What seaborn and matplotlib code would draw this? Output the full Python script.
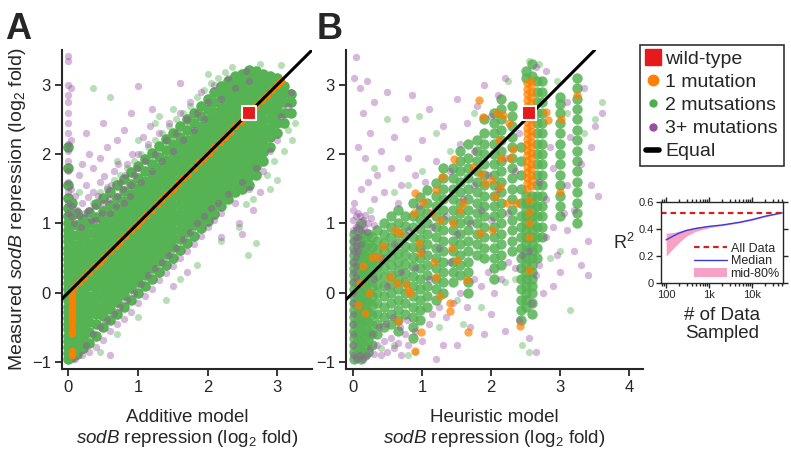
import numpy as np
import pandas as pd
import matplotlib
matplotlib.use("Agg")
import matplotlib.pyplot as plt
from matplotlib.lines import Line2D
import seaborn as sns

sns.set_style("ticks")
plt.rcParams['font.family'] = ['Liberation Sans', 'DejaVu Sans']
plt.rcParams['mathtext.fontset'] = 'custom'
plt.rcParams['mathtext.rm'] = 'Liberation Sans'
plt.rcParams['mathtext.it'] = 'Liberation Sans:italic'

# ---------------- colours ----------------
C_WT = "#E41A1C"
C_ONE = "#FF7F00"
C_TWO = "#4DAF4A"
C_TWO_CORE = "#56B353"
C_THREE = "#984EA3"

# ---------------- Panel A (additive model) ----------------
# green: 2 mutations, dense core read as columns (x, list of measured y)
a_green_cols = [
    (0.00, [-0.95, -0.87, -0.79, -0.7, -0.62, -0.53, -0.45, -0.36, -0.28, -0.2, -0.11, -0.03, 0.06, 0.14, 0.23,
            0.31, 0.4, 0.48, 0.57, 0.65, 0.74, 0.82, 0.91, 1.0, 1.1, 1.22, 1.36, 1.55, 1.8, 2.1]),
    (0.06, [-0.93, -0.8, -0.67, -0.55, -0.41, -0.29, -0.16, -0.04, 0.09, 0.21, 0.34, 0.46, 0.59, 0.71, 0.84, 0.97, 1.12, 1.3]),
    (0.13, [-0.88, -0.74, -0.6, -0.47, -0.33, -0.21, -0.08, 0.05, 0.17, 0.3, 0.43, 0.56, 0.69, 0.83, 0.98, 1.15]),
    (0.21, [-0.8, -0.66, -0.52, -0.39, -0.26, -0.13, 0.0, 0.12, 0.25, 0.37, 0.5, 0.63, 0.77, 0.92, 1.06]),
    (0.30, [-0.72, -0.56, -0.42, -0.29, -0.16, -0.04, 0.09, 0.21, 0.34, 0.46, 0.59, 0.72, 0.86, 1.0, 1.17]),
    (0.40, [-0.62, -0.45, -0.31, -0.19, -0.07, 0.06, 0.18, 0.3, 0.43, 0.55, 0.67, 0.8, 0.94, 1.09, 1.28]),
    (0.50, [-0.5, -0.34, -0.21, -0.08, 0.04, 0.16, 0.28, 0.4, 0.52, 0.65, 0.77, 0.9, 1.03, 1.18, 1.36]),
    (0.60, [-0.4, -0.23, -0.1, 0.02, 0.14, 0.26, 0.38, 0.5, 0.62, 0.74, 0.87, 0.99, 1.12, 1.27, 1.45]),
    (0.70, [-0.3, -0.13, 0.0, 0.12, 0.24, 0.36, 0.48, 0.6, 0.72, 0.84, 0.96, 1.09, 1.22, 1.37, 1.55]),
    (0.80, [-0.2, -0.03, 0.1, 0.22, 0.34, 0.46, 0.58, 0.7, 0.82, 0.94, 1.06, 1.19, 1.32, 1.47, 1.64]),
    (0.90, [-0.1, 0.07, 0.2, 0.32, 0.44, 0.56, 0.68, 0.8, 0.92, 1.04, 1.16, 1.29, 1.42, 1.57, 1.74]),
    (1.00, [0.0, 0.16, 0.29, 0.41, 0.53, 0.65, 0.77, 0.89, 1.01, 1.13, 1.25, 1.38, 1.51, 1.66, 1.83]),
    (1.10, [0.1, 0.26, 0.39, 0.51, 0.63, 0.75, 0.87, 0.99, 1.11, 1.23, 1.35, 1.48, 1.61, 1.76, 1.93]),
    (1.20, [0.2, 0.36, 0.49, 0.61, 0.73, 0.85, 0.97, 1.09, 1.21, 1.33, 1.45, 1.58, 1.71, 1.86, 2.02]),
    (1.30, [0.3, 0.46, 0.59, 0.71, 0.83, 0.95, 1.07, 1.19, 1.31, 1.43, 1.55, 1.68, 1.81, 1.96, 2.12]),
    (1.40, [0.4, 0.56, 0.69, 0.81, 0.93, 1.05, 1.17, 1.29, 1.41, 1.53, 1.65, 1.78, 1.91, 2.06, 2.22]),
    (1.50, [0.5, 0.66, 0.79, 0.91, 1.03, 1.15, 1.27, 1.39, 1.51, 1.63, 1.75, 1.88, 2.01, 2.15, 2.3]),
    (1.60, [0.62, 0.77, 0.9, 1.02, 1.14, 1.26, 1.38, 1.5, 1.62, 1.74, 1.86, 1.98, 2.11, 2.25, 2.4]),
    (1.70, [0.72, 0.87, 1.0, 1.12, 1.24, 1.36, 1.48, 1.6, 1.72, 1.84, 1.96, 2.08, 2.21, 2.35, 2.5]),
    (1.80, [0.82, 0.97, 1.1, 1.22, 1.34, 1.46, 1.58, 1.7, 1.82, 1.94, 2.06, 2.18, 2.31, 2.45, 2.6]),
    (1.90, [0.93, 1.07, 1.2, 1.32, 1.44, 1.56, 1.68, 1.8, 1.92, 2.04, 2.16, 2.28, 2.41, 2.55, 2.7]),
    (2.00, [1.03, 1.17, 1.3, 1.42, 1.54, 1.66, 1.78, 1.9, 2.02, 2.14, 2.26, 2.38, 2.51, 2.65, 2.8]),
    (2.10, [1.13, 1.27, 1.4, 1.52, 1.64, 1.76, 1.88, 2.0, 2.12, 2.24, 2.36, 2.48, 2.61, 2.75, 2.9]),
    (2.20, [1.25, 1.38, 1.5, 1.62, 1.74, 1.86, 1.98, 2.1, 2.22, 2.34, 2.46, 2.58, 2.71, 2.85, 2.98]),
    (2.30, [1.35, 1.48, 1.6, 1.72, 1.84, 1.96, 2.08, 2.2, 2.32, 2.44, 2.56, 2.68, 2.8, 2.93, 3.05]),
    (2.40, [1.45, 1.58, 1.7, 1.82, 1.94, 2.06, 2.18, 2.3, 2.42, 2.54, 2.66, 2.78, 2.9, 3.02, 3.12]),
    (2.50, [1.5, 1.62, 1.74, 1.86, 1.98, 2.1, 2.22, 2.34, 2.46, 2.58, 2.7, 2.82, 2.94, 3.05, 3.16]),
    (2.60, [1.55, 1.68, 1.8, 1.92, 2.04, 2.16, 2.28, 2.4, 2.52, 2.64, 2.76, 2.88, 3.0, 3.1, 3.22]),
    (2.70, [1.7, 1.83, 1.95, 2.07, 2.19, 2.31, 2.43, 2.55, 2.67, 2.79, 2.9, 3.0, 3.1, 3.2]),
    (2.80, [1.9, 2.03, 2.15, 2.27, 2.39, 2.51, 2.63, 2.75, 2.86, 2.97, 3.07, 3.15]),
    (2.90, [2.1, 2.24, 2.37, 2.5, 2.62, 2.73, 2.84, 2.95, 3.05, 3.12]),
    (3.00, [2.3, 2.45, 2.58, 2.7, 2.82, 2.93, 3.03, 3.1]),
    (3.10, [2.45, 2.6, 2.75, 2.88, 2.98]),
    (3.20, [2.6, 2.75, 2.86]),
]
# green: sparser points around the band
a_green_extra = [(0.35, 1.3), (0.45, 1.45), (0.55, 1.52), (0.65, 1.62), (0.75, 1.7), (0.85, 1.8), (0.95, 1.9),
                 (1.05, 2.0), (1.15, 2.1), (1.25, 2.2), (1.35, 2.3), (1.45, 2.4), (1.55, 2.5), (1.65, 2.6),
                 (1.75, 2.7), (1.85, 2.82), (1.95, 2.92), (2.05, 3.02), (2.15, 3.1), (2.25, 3.18),
                 (1.0, 2.2), (1.5, 2.65), (2.0, 3.15), (0.7, 1.9), (1.25, 2.45),
                 (2.7, 0.72), (2.58, 0.55), (3.0, 1.62), (3.22, 2.2), (2.55, 1.28), (2.9, 1.5), (2.2, 0.75),
                 (3.1, 2.05), (0.6, 2.82), (0.35, 2.95), (1.3, 2.55), (0.15, 1.45), (2.95, 1.9), (3.05, 3.28),
                 (2.75, 3.3), (2.35, 3.25), (1.85, 0.4), (1.4, -0.1), (1.0, -0.35), (0.7, -0.6), (0.45, -0.85),
                 (1.6, 0.2), (3.25, 2.45), (2.45, 0.95), (2.65, 1.35), (2.85, 1.7), (3.15, 2.35)]
a_purple = [
    (0.06, 1.25), (0.1, 1.4), (0.15, 1.1), (0.2, 1.3), (0.25, 1.55), (0.3, 1.2), (0.35, 1.45), (0.4, 1.05),
    (0.45, 1.6), (0.5, 1.3), (0.55, 1.5), (0.6, 1.15), (0.65, 1.75), (0.7, 1.4), (0.75, 1.6), (0.8, 1.3),
    (0.85, 1.85), (0.9, 1.55), (0.95, 1.7), (1.0, 2.0), (1.05, 1.6), (1.1, 1.9), (1.15, 2.15), (1.2, 1.75),
    (1.25, 2.0), (1.3, 2.3), (1.35, 1.9), (1.4, 2.2), (1.45, 2.45), (1.5, 2.05), (1.55, 2.3), (1.6, 2.6),
    (1.65, 2.2), (1.7, 2.5), (1.75, 2.75), (1.8, 2.35), (1.85, 2.6), (1.9, 2.9), (1.95, 2.5), (2.0, 2.75),
    (2.1, 3.0), (2.2, 2.8), (2.3, 3.1), (2.4, 2.95), (2.55, 3.2), (0.5, 2.45), (0.9, 2.6), (1.0, 2.98),
    (1.6, 3.02), (0.3, 2.0), (0.7, 2.2), (1.2, 2.65), (0.45, 1.95), (0.2, 1.85),
    (0.08, 1.0), (0.12, 1.2), (0.18, 0.95), (0.24, 1.15), (0.28, 1.38), (0.33, 1.05), (0.38, 1.25),
    (0.42, 1.4), (0.48, 1.15), (0.52, 1.68), (0.58, 1.35), (0.62, 1.55), (0.68, 1.25), (0.72, 1.85),
    (0.78, 1.5), (0.82, 1.7), (0.88, 1.4), (0.92, 2.0), (0.98, 1.8), (1.08, 2.25), (1.18, 2.4),
    (0.15, 1.7), (0.35, 1.8), (0.55, 2.1), (0.25, 2.3), (0.8, 2.35),
    (0.1, -0.95), (0.2, -0.9), (0.25, -0.75), (0.3, -0.85), (0.35, -0.6), (0.4, -0.78), (0.45, -0.5),
    (0.5, -0.68), (0.55, -0.4), (0.6, -0.55), (0.65, -0.3), (0.7, -0.45), (0.75, -0.2), (0.8, -0.38),
    (0.85, -0.1), (0.9, -0.28), (0.95, 0.0), (1.0, -0.15), (1.05, 0.12), (1.1, -0.05), (1.15, 0.25),
    (1.2, 0.05), (1.25, 0.35), (1.3, 0.18), (1.35, 0.45), (1.4, 0.28), (1.45, 0.55), (1.5, 0.38),
    (1.55, 0.65), (1.6, 0.5), (1.65, 0.78), (1.7, 0.6), (1.75, 0.88), (1.8, 0.7), (1.85, 1.0), (1.9, 0.82),
    (1.95, 1.1), (2.0, 0.95), (2.05, 1.22), (2.1, 1.05), (2.15, 1.3), (2.2, 1.15), (2.3, 1.42), (2.4, 1.3),
    (2.5, 1.6), (2.6, 1.5), (2.7, 1.8), (2.8, 1.75), (2.9, 2.05), (3.0, 2.2), (2.65, 1.2), (2.2, 0.8),
    (1.5, 0.1), (0.6, -0.9), (1.7, 0.3), (2.45, 1.0),
    (0.0, 1.3), (0.0, 1.45), (0.0, 1.6), (0.0, 1.75), (0.0, 1.9), (0.0, 2.05), (0.0, 2.15), (0.0, 2.3),
    (0.0, 2.45), (0.0, 2.6), (0.0, 2.75), (0.0, 2.85), (0.0, 3.0), (0.0, 3.35), (0.0, 3.42), (0.04, 1.5),
    (0.04, 2.2), (0.04, 2.95), (0.04, 1.1), (0.0, 1.15),
    (3.05, 2.55), (3.2, 2.9), (2.6, 3.05), (3.15, 2.7), (2.75, 1.45), (2.5, 0.85),
]
a_orange = [
    (0.08, 0.08), (0.15, 0.15), (0.22, 0.22), (0.3, 0.3), (0.38, 0.38), (0.45, 0.45), (0.52, 0.52),
    (0.6, 0.6), (0.68, 0.68), (0.75, 0.75), (0.82, 0.82), (0.9, 0.9), (0.98, 0.98), (1.05, 1.05),
    (1.12, 1.12), (1.2, 1.2), (1.28, 1.28), (1.35, 1.35), (1.42, 1.42), (1.5, 1.5), (1.58, 1.58),
    (1.65, 1.65), (1.72, 1.72), (1.8, 1.8), (1.88, 1.88), (1.95, 1.95), (2.02, 2.02), (2.1, 2.1),
    (2.18, 2.18), (2.25, 2.25), (2.32, 2.32), (2.4, 2.4), (2.48, 2.48), (2.55, 2.55), (2.7, 2.7),
    (2.78, 2.78), (2.85, 2.85), (2.92, 2.92), (3.0, 3.0), (3.05, 3.05),
    (0.05, -0.02), (0.05, -0.08), (0.05, -0.14), (0.05, -0.2), (0.05, -0.26), (0.05, -0.32),
    (0.05, -0.38), (0.05, -0.44), (0.05, -0.52), (0.05, -0.58), (0.05, -0.84), (0.05, -0.9),
]
a_wildtype = [(2.6, 2.6)]

# ---------------- Panel B (heuristic model) ----------------
b_green_cols = [
    (0.02, [-0.95, -0.85, -0.75, -0.65, -0.55, -0.45, -0.35, -0.25, -0.15, -0.05, 0.05, 0.15, 0.25, 0.35, 0.45, 0.55, 0.65, 0.75, 0.85]),
    (0.07, [-0.92, -0.8, -0.68, -0.56, -0.44, -0.32, -0.2, -0.08, 0.04, 0.16, 0.28, 0.4, 0.52, 0.64, 0.76, 0.9]),
    (0.12, [-0.95, -0.83, -0.71, -0.59, -0.47, -0.35, -0.23, -0.11, 0.01, 0.13, 0.25, 0.37, 0.49, 0.61, 0.73, 0.85, 1.0]),
    (0.17, [-0.9, -0.77, -0.64, -0.51, -0.38, -0.25, -0.12, 0.01, 0.14, 0.27, 0.4, 0.53, 0.66, 0.8]),
    (0.22, [-0.85, -0.7, -0.56, -0.42, -0.28, -0.14, 0.0, 0.14, 0.28, 0.42, 0.56, 0.7, 0.85]),
    (0.28, [-0.75, -0.6, -0.46, -0.32, -0.18, -0.04, 0.1, 0.24, 0.38, 0.52, 0.66, 0.8]),
    (0.35, [-0.6, -0.45, -0.3, -0.15, 0.0, 0.12, 0.25, 0.38, 0.5, 0.62, 0.75, 0.9]),
    (0.45, [-0.5, -0.35, -0.2, -0.05, 0.1, 0.22, 0.35, 0.48, 0.6, 0.72, 0.85, 1.0]),
    (0.55, [-0.45, -0.3, -0.15, 0.0, 0.13, 0.26, 0.4, 0.53, 0.66, 0.8, 0.95, 1.1]),
    (0.65, [-0.55, -0.4, -0.25, -0.1, 0.05, 0.18, 0.32, 0.45, 0.58, 0.72, 0.86, 1.0, 1.2]),
    (0.75, [-0.3, -0.15, 0.0, 0.15, 0.28, 0.42, 0.55, 0.68, 0.82, 0.96, 1.1]),
    (0.87, [-0.65, -0.5, -0.35, -0.2, -0.05, 0.1, 0.24, 0.38, 0.52, 0.66, 0.8, 0.95, 1.1, 1.3]),
    (0.97, [-0.4, -0.25, -0.1, 0.05, 0.2, 0.35, 0.5, 0.64, 0.78, 0.92, 1.06, 1.2, 1.38]),
    (1.07, [-0.2, -0.05, 0.1, 0.25, 0.4, 0.55, 0.7, 0.85, 1.0, 1.15, 1.3, 1.48]),
    (1.20, [-0.1, 0.05, 0.2, 0.35, 0.5, 0.65, 0.8, 0.95, 1.1, 1.25, 1.4, 1.58]),
    (1.30, [0.0, 0.15, 0.3, 0.45, 0.6, 0.75, 0.9, 1.05, 1.2, 1.35, 1.5, 1.65, 1.8]),
    (1.45, [0.15, 0.3, 0.45, 0.6, 0.75, 0.9, 1.05, 1.2, 1.35, 1.5, 1.65, 1.8]),
    (1.55, [0.25, 0.4, 0.55, 0.7, 0.85, 1.0, 1.15, 1.3, 1.45, 1.6, 1.75, 1.9, 2.05]),
    (1.67, [0.0, 0.15, 0.3, 0.45, 0.6, 0.75, 0.9, 1.05, 1.2, 1.35, 1.5, 1.65, 1.8, 1.95, 2.15]),
    (1.80, [0.55, 0.7, 0.85, 1.0, 1.15, 1.3, 1.45, 1.6, 1.75, 1.9, 2.05, 2.2]),
    (1.90, [0.5, 0.65, 0.8, 0.95, 1.1, 1.25, 1.4, 1.55, 1.7, 1.85, 2.0, 2.15, 2.3, 2.5]),
    (2.05, [0.2, 0.35, 0.5, 0.65, 0.8, 0.95, 1.1, 1.25, 1.4, 1.55, 1.7, 1.85, 2.0, 2.15, 2.3, 2.45, 2.6]),
    (2.15, [0.4, 0.55, 0.7, 0.85, 1.0, 1.15, 1.3, 1.45, 1.6, 1.75, 1.9, 2.05, 2.2, 2.35, 2.5, 2.65, 2.8]),
    (2.30, [0.6, 0.75, 0.9, 1.05, 1.2, 1.35, 1.5, 1.65, 1.8, 1.95, 2.1, 2.25, 2.4, 2.55, 2.7]),
    (2.43, [-0.4, -0.25, -0.1, 0.05, 0.2, 0.35, 0.5, 0.65, 0.8, 0.95, 1.1, 1.3, 1.5, 1.7, 1.9, 2.1]),
    (2.50, [-0.2, -0.1, 0.0, 0.1, 0.2, 0.3, 0.4, 0.5, 0.6, 0.7, 0.8, 0.9, 1.0, 1.1, 1.2, 1.3, 1.4, 3.1, 3.2]),
    (2.60, [-0.3, -0.15, 0.0, 0.1, 0.2, 0.3, 0.4, 0.5, 0.6, 0.7, 0.8, 0.9, 1.0, 1.1, 1.2, 1.3, 1.4, 3.12, 3.3]),
    (2.66, [0.5, 0.65, 0.8, 0.95, 1.1, 1.25, 1.4, 1.55, 1.7, 1.85, 2.0, 2.15, 2.3, 2.45, 2.6, 2.75, 2.9, 3.05]),
    (2.74, [0.8, 0.95, 1.1, 1.25, 1.4, 1.55, 1.7, 1.85, 2.0, 2.15, 2.3, 2.45, 2.6, 2.75, 2.9, 3.05]),
    (3.00, [1.1, 1.25, 1.4, 1.55, 1.7, 1.85, 2.0, 2.15, 2.3, 2.45, 2.6, 2.72, 2.82]),
    (3.25, [1.0, 1.15, 1.3, 1.45, 1.6, 1.75, 1.9, 2.05, 2.2, 2.35, 2.5, 2.65, 2.8, 2.95, 3.1]),
]
b_green_extra = [(0.3, 1.8), (0.5, 2.5), (0.95, 2.55), (1.2, 2.3), (1.4, 2.05), (0.8, 1.55), (1.75, 2.6),
                 (2.25, 3.05), (2.55, 3.35), (2.7, 3.3), (3.1, 2.6), (3.35, 2.3), (3.5, 2.5), (3.6, 2.75),
                 (2.85, 0.5), (2.35, 0.2), (1.85, -0.2), (1.6, -0.45), (1.25, -0.5), (0.9, -0.85),
                 (1.5, -0.1), (2.2, 0.15), (3.0, 0.6), (2.95, 3.05), (0.25, 1.2), (0.6, 1.45), (1.0, 1.75),
                 (2.45, -0.75), (2.55, -0.85), (3.15, -0.25), (0.4, -0.8), (0.6, -0.75), (0.8, -0.9)]
b_purple = [
    (0.0, 1.2), (0.0, 1.05), (0.0, 0.9), (0.0, 0.75), (0.0, 0.6), (0.0, 0.45), (0.0, 0.3), (0.0, 0.15),
    (0.0, 0.0), (0.0, -0.15), (0.0, -0.3), (0.0, -0.45), (0.0, -0.6), (0.0, -0.75), (0.0, -0.9),
    (0.04, 1.1), (0.04, 0.95), (0.04, 0.8), (0.04, 0.68), (0.04, 0.52), (0.08, 1.15), (0.08, 0.98),
    (0.1, 1.1), (0.14, 1.05), (0.18, 1.12), (0.22, 1.0), (0.26, 1.08), (0.3, 0.98), (0.12, 0.9), (0.2, 0.88),
    (0.04, 0.38), (0.04, 0.22), (0.08, 0.6), (0.08, 0.8), (0.12, 0.7), (0.16, 0.95), (0.02, 1.3),
    (0.05, -0.95), (0.1, -0.9), (0.15, -0.95), (0.2, -0.9), (0.25, -0.8), (0.3, -0.88), (0.35, -0.75),
    (0.4, -0.9), (0.45, -0.7), (0.5, -0.85), (0.55, -0.65), (0.6, -0.8), (0.65, -0.72), (0.7, -0.9),
    (0.75, -0.6), (0.8, -0.75), (0.28, -0.6), (0.38, -0.5), (0.48, -0.45), (0.58, -0.35), (0.68, -0.5),
    (0.78, -0.4), (0.9, -0.55), (1.0, -0.7), (1.1, -0.45), (1.15, -0.3), (1.25, -0.2), (1.35, -0.35),
    (1.45, -0.15), (1.55, 0.0), (1.65, -0.2), (1.75, 0.2), (1.85, 0.1), (1.95, 0.3), (2.05, 0.0),
    (2.15, 0.2), (2.25, 0.45), (2.35, 0.35), (2.45, 0.55), (2.55, 0.6), (2.65, 0.25), (2.7, 0.4),
    (2.8, 0.8), (2.9, 0.95), (2.95, 0.55), (3.05, 1.15), (3.1, 0.9), (3.2, 0.6), (3.3, 0.4), (3.4, 0.75),
    (2.75, 0.0), (2.6, -0.15), (2.4, -0.4), (2.2, -0.55), (2.0, -0.3), (1.9, -0.6), (1.7, -0.5),
    (1.5, -0.75), (1.3, -0.75), (1.2, -0.95), (2.55, -0.65), (2.65, -0.85),
    (0.3, 0.2), (0.4, 0.5), (0.5, 0.1), (0.6, 0.7), (0.7, 0.3), (0.8, 0.9), (0.9, 0.35), (1.0, 0.6),
    (1.1, 0.2), (1.15, 0.95), (1.25, 0.65), (1.35, 1.1), (1.4, 0.45), (1.5, 0.85), (1.6, 1.35), (1.7, 1.0),
    (1.75, 1.55), (1.85, 1.2), (1.95, 1.7), (2.0, 1.05), (2.1, 1.5), (2.2, 1.95), (2.25, 1.15), (2.35, 1.75),
    (2.4, 2.3), (2.7, 1.6), (2.8, 1.35), (2.85, 2.1), (2.9, 1.8), (3.1, 1.55), (3.15, 2.25), (3.3, 1.85),
    (3.45, 2.1), (3.55, 1.4), (3.6, 2.6),
    (0.05, 3.4), (0.02, 3.1), (0.1, 2.95), (0.15, 2.6), (0.2, 3.05), (0.25, 2.3), (0.3, 2.75), (0.08, 2.1),
    (0.18, 1.95), (0.35, 1.7), (0.4, 2.05), (0.45, 1.45), (0.5, 2.9), (0.55, 1.8), (0.6, 2.25), (0.7, 1.55),
    (0.75, 2.5), (0.8, 1.95), (0.85, 2.85), (0.9, 1.7), (1.0, 2.2), (1.05, 1.6), (1.1, 2.65), (1.2, 1.9),
    (1.3, 2.4), (1.4, 1.75), (1.5, 2.8), (1.55, 2.15), (1.65, 2.45), (1.75, 2.05), (1.8, 2.7), (1.9, 3.0),
    (2.0, 2.55), (2.1, 2.85), (2.2, 3.1), (0.12, 1.5), (0.22, 1.6), (0.3, 1.35), (0.65, 1.3), (0.95, 1.25),
    (3.5, 2.4), (3.45, 1.55), (3.1, 2.75), (3.35, 2.95), (2.8, 3.2), (2.65, 3.25), (3.2, 1.2), (3.0, 0.3),
    (3.4, 0.25), (2.9, 0.1),
]
b_orange_cols = [
    (2.52, [1.5, 1.58, 1.66, 1.74, 1.82, 1.9, 1.98, 2.06, 2.14, 2.22, 2.3, 2.38, 2.46, 2.54, 2.62, 2.7, 2.78, 2.86, 2.94, 3.02]),
    (2.58, [1.54, 1.62, 1.7, 1.78, 1.86, 1.94, 2.02, 2.1, 2.18, 2.26, 2.34, 2.42, 2.5, 2.58, 2.66, 2.74, 2.82, 2.9, 2.98, 3.05]),
    (2.55, [1.34, 1.17, 1.0, 0.81, 0.33]),
]
b_orange_extra = [
    (1.82, 2.78), (1.88, 2.54), (2.08, 2.59), (2.17, 2.56), (2.26, 2.45), (2.11, 2.2), (2.15, 1.94),
    (2.28, 1.94), (2.32, 2.08), (1.74, 1.82), (1.86, 1.72), (1.91, 1.59), (2.01, 1.63), (2.13, 1.53),
    (2.06, 1.39), (2.23, 1.29), (2.36, 1.29), (1.84, 0.86), (2.01, 0.91), (1.46, 1.93), (1.29, 1.67),
    (1.21, 1.48), (1.02, 1.31), (0.9, 1.44), (0.88, 1.15), (1.14, 1.15), (1.26, 1.05), (1.55, 1.19),
    (1.6, 1.29), (0.68, 0.86), (0.61, 0.91), (0.44, 0.67), (0.54, 0.23), (0.64, 0.14), (0.37, 0.52),
    (0.15, 0.38), (0.11, 0.14), (0.08, -0.17), (0.18, -0.29), (0.77, 0.12), (0.8, 0.04), (0.95, 0.72),
    (0.97, 0.57), (1.17, 0.45), (1.21, 0.23), (1.26, -0.05), (1.4, -0.27), (1.41, -0.15), (1.5, 0.47),
    (1.43, 0.64), (1.45, 1.0), (1.65, 0.19), (1.67, -0.56), (0.9, -0.84), (0.98, -0.56), (0.66, -0.41),
    (0.83, 0.0), (0.23, 0.0), (0.27, 0.52), (3.0, 1.46), (2.42, -0.48), (2.79, 2.61), (2.83, 2.49),
    (3.01, 2.51), (3.25, 2.85),
]
b_wildtype = [(2.55, 2.6)]

# ---------------- Inset: R^2 vs number of data sampled ----------------
n_sampled = [100, 150, 200, 300, 500, 1000, 2000, 5000, 10000, 20000, 50000]
r2_median = [0.32, 0.35, 0.37, 0.39, 0.405, 0.42, 0.43, 0.45, 0.47, 0.495, 0.52]
r2_low = [0.20, 0.26, 0.30, 0.35, 0.385, 0.41, 0.425, 0.445, 0.465, 0.49, 0.52]
r2_high = [0.37, 0.375, 0.385, 0.40, 0.415, 0.425, 0.435, 0.455, 0.475, 0.50, 0.52]
r2_all = 0.52


def cols_to_df(cols):
    return pd.DataFrame([(x, y) for x, ys in cols for y in ys], columns=["x", "y"])


def pts_df(pts):
    return pd.DataFrame(pts, columns=["x", "y"])


fig = plt.figure(figsize=(7.91, 4.71), dpi=100)
axA = fig.add_axes([0.0784, 0.2166, 0.316, 0.677])
axB = fig.add_axes([0.4374, 0.2166, 0.3755, 0.677])

panels = [
    (axA, a_purple, a_green_cols, a_green_extra, pts_df(a_orange), a_wildtype, 30, 0.95, 58, 1.0,
     (-0.09, 3.5), [0, 1, 2, 3], "Additive model"),
    (axB, b_purple, b_green_cols, b_green_extra,
     pd.concat([cols_to_df(b_orange_cols), pts_df(b_orange_extra)]), b_wildtype, 36, 0.7, 56, 0.85,
     (-0.1, 4.2), [0, 1, 2, 3, 4], "Heuristic model"),
]
for ax, pur, gcols, gext, do, wt, osz, oal, gsz, gal, xlim, xt, xl in panels:
    sns.scatterplot(data=pts_df(gext), x="x", y="y", ax=ax, color=C_TWO, s=26, alpha=0.4,
                    linewidth=0, zorder=2)
    sns.scatterplot(data=cols_to_df(gcols), x="x", y="y", ax=ax, color=C_TWO_CORE, s=gsz, alpha=gal,
                    linewidth=0, zorder=3)
    sns.scatterplot(data=pts_df(pur), x="x", y="y", ax=ax, color=C_THREE, s=28, alpha=0.4,
                    linewidth=0, zorder=3.5)
    sns.scatterplot(data=do, x="x", y="y", ax=ax, color=C_ONE, s=osz, alpha=oal, linewidth=0, zorder=4)
    ax.axline((0, 0), slope=1, color="black", lw=2.2, zorder=5)
    sns.scatterplot(data=pts_df(wt), x="x", y="y", ax=ax, color=C_WT, marker="s", s=110, edgecolor="white",
                    linewidth=1.5, zorder=6)
    ax.set_xlim(*xlim)
    ax.set_ylim(-1.1, 3.5)
    ax.set_xticks(xt)
    ax.set_yticks([-1, 0, 1, 2, 3])
    ax.set_xticklabels([str(v) for v in xt])
    ax.set_yticklabels(["\u22121", "0", "1", "2", "3"])
    ax.tick_params(labelsize=12, length=5, width=1.3, direction="out", pad=3)
    for s in ["top", "right"]:
        ax.spines[s].set_visible(False)
    for s in ["left", "bottom"]:
        ax.spines[s].set_linewidth(1.5)
    ax.set_xlabel(xl + "\n" + r"$\it{sodB}$ repression (log$_2$ fold)", fontsize=13.5, labelpad=10,
                  linespacing=1.15)
    ax.set_ylabel("")

axA.set_ylabel(r"Measured $\it{sodB}$ repression (log$_2$ fold)", fontsize=14, labelpad=3)

fig.text(0.006, 0.975, "A", fontsize=26, fontweight="bold", va="top", ha="left")
fig.text(0.400, 0.975, "B", fontsize=26, fontweight="bold", va="top", ha="left")

# main legend
handles = [
    Line2D([], [], marker="s", color=C_WT, linestyle="none", markersize=11),
    Line2D([], [], marker="o", color=C_ONE, linestyle="none", markersize=7.5),
    Line2D([], [], marker="o", color=C_TWO, linestyle="none", markersize=5),
    Line2D([], [], marker="o", color=C_THREE, linestyle="none", markersize=5),
    Line2D([], [], color="black", lw=4),
]
labels = ["wild-type", "1 mutation", "2 mutsations", "3+ mutations", "Equal"]
leg = fig.legend(handles, labels, loc="upper left", bbox_to_anchor=(0.809, 0.905), fontsize=14,
                 frameon=True, fancybox=False, edgecolor="black", handlelength=0.7, handletextpad=0.3,
                 borderpad=0.3, labelspacing=0.28, borderaxespad=0)
leg.get_frame().set_linewidth(1.2)

# inset
axI = fig.add_axes([0.8357, 0.399, 0.1542, 0.172])
axI.fill_between(n_sampled, r2_low, r2_high, color="#F7A1C4", lw=0, label="mid-80%")
axI.axhline(r2_all, color="#D42020", lw=1.6, ls=(0, (2.5, 1.8)), label="All Data")
sns.lineplot(x=n_sampled, y=r2_median, ax=axI, color="#3A3AD8", lw=1.0, label="Median")
axI.set_xscale("log")
axI.set_xlim(76, 52000)
axI.set_ylim(0, 0.6)
axI.set_yticks([0, 0.2, 0.4, 0.6])
axI.set_yticklabels(["0", "0.2", "0.4", "0.6"])
axI.set_xticks([100, 1000, 10000])
axI.set_xticklabels(["100", "1k", "10k"])
axI.tick_params(which="both", direction="out", top=True, right=True, labelsize=8, pad=1.5, width=1.0)
axI.tick_params(which="major", length=3.5)
axI.tick_params(which="minor", length=2)
for s in axI.spines.values():
    s.set_linewidth(1.0)
axI.set_ylabel("R$^2$", rotation=0, fontsize=13, ha="right", va="center", labelpad=3)
axI.set_xlabel("# of Data\nSampled", fontsize=13.5, labelpad=5, linespacing=1.1)
h, l = axI.get_legend_handles_labels()
order = [l.index("All Data"), l.index("Median"), l.index("mid-80%")]
axI.legend([h[i] for i in order], [l[i] for i in order], loc="lower right", frameon=False, fontsize=9,
           handlelength=2.6, handletextpad=0.3, labelspacing=0.05, borderpad=0.15, borderaxespad=0.1)

fig.savefig("out.png", dpi=100)
